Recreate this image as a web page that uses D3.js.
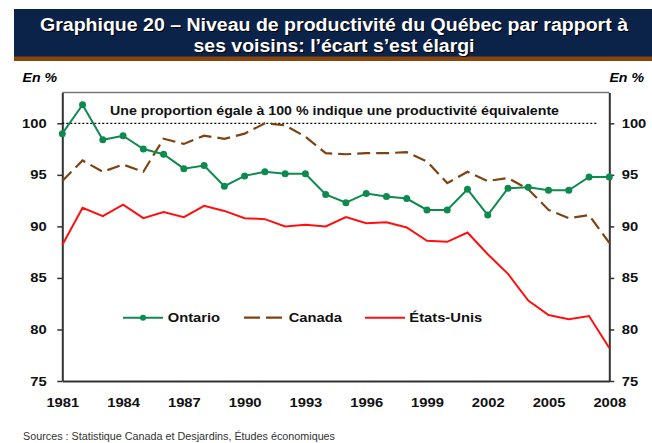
<!DOCTYPE html>
<html>
<head>
<meta charset="utf-8">
<script src="https://cdn.jsdelivr.net/npm/d3@7"></script>
<style>
  body { margin: 0; background: #fff; }
  svg { display: block; font-family: "Liberation Sans", Arial, sans-serif; }
  .tick line { stroke: #333; }
</style>
</head>
<body>
<svg id="chart" width="652" height="443"></svg>
<script>
// values
var years = [1981, 1982, 1983, 1984, 1985, 1986, 1987, 1988, 1989, 1990, 1991, 1992, 1993, 1994,
             1995, 1996, 1997, 1998, 1999, 2000, 2001, 2002, 2003, 2004, 2005, 2006, 2007, 2008];
var ontario = [99.0, 101.8, 98.4, 98.8, 97.5, 97.0, 95.6, 95.9, 93.9, 94.9, 95.3, 95.1, 95.1, 93.1,
               92.3, 93.2, 92.9, 92.7, 91.6, 91.6, 93.6, 91.1, 93.7, 93.8, 93.5, 93.5, 94.8, 94.8];
var canada = [94.4, 96.4, 95.3, 96.0, 95.3, 98.5, 98.0, 98.8, 98.5, 99.0, 100.0, 99.8, 98.7, 97.1,
              97.0, 97.1, 97.1, 97.2, 96.3, 94.2, 95.3, 94.4, 94.7, 93.6, 91.6, 90.8, 91.1, 88.4];
var etatsUnis = [88.2, 91.8, 91.0, 92.1, 90.8, 91.4, 90.9, 92.0, 91.5, 90.8, 90.7, 90.0, 90.15, 90.0,
                 90.9, 90.3, 90.4, 89.9, 88.6, 88.5, 89.4, 87.3, 85.4, 82.8, 81.4, 81.0, 81.3, 78.2];
var xTickYears = [1981, 1984, 1987, 1990, 1993, 1996, 1999, 2002, 2005, 2008];
var yTicks = [75, 80, 85, 90, 95, 100];
var seriesNames = ["Ontario", "Canada", "États-Unis"];

var titleLines = ["Graphique 20 – Niveau de productivité du Québec par rapport à",
                  "ses voisins: l’écart s’est élargi"];
var noteText = "Une proportion égale à 100 % indique une productivité équivalente";
var sourceText = "Sources : Statistique Canada et Desjardins, Études économiques";

var green = "#0f8a4e", brown = "#7d4310", red = "#ff1010";
var stretch = 1.18; // the original picture text looks a bit wide

var svg = d3.select("#chart");

var x = d3.scaleLinear().domain([1981, 2008]).range([62.3, 609.3]);
var y = d3.scaleLinear().domain([75, 103]).range([381, 92.4]);

// helper for wide-looking text
function wideText(g, tx, ty, txt, size, anchor, k) {
  return g.append("text")
    .attr("transform", "translate(" + tx + "," + ty + ") scale(" + (k || stretch) + ",1)")
    .attr("text-anchor", anchor || "start")
    .style("font-size", size + "px")
    .style("font-weight", "bold")
    .text(txt);
}

// title banner
svg.append("rect").attr("x", 14).attr("y", 9).attr("width", 638).attr("height", 48).attr("fill", "#0b2249");
svg.append("rect").attr("x", 14).attr("y", 56.5).attr("width", 638).attr("height", 4.5).attr("fill", "#88460e");
titleLines.forEach(function(t, i) {
  var ty = 31 + i * 21;
  svg.append("text").attr("x", 335).attr("y", ty + 1.2).attr("text-anchor", "middle")
    .style("font-size", "18px").style("font-weight", "bold").attr("fill", "#000")
    .attr("textLength", i == 0 ? 588 : 281).attr("lengthAdjust", "spacingAndGlyphs").text(t);
  svg.append("text").attr("x", 334).attr("y", ty).attr("text-anchor", "middle")
    .style("font-size", "18px").style("font-weight", "bold").attr("fill", "#fff")
    .attr("textLength", i == 0 ? 588 : 281).attr("lengthAdjust", "spacingAndGlyphs").text(t);
});

// unit labels
wideText(svg, 22.5, 82, "En %", 12).style("font-style", "italic");
wideText(svg, 644, 82, "En %", 12, "end").style("font-style", "italic");

// top border of the plot
svg.append("line").attr("x1", x(1981)).attr("x2", x(2008)).attr("y1", y(103)).attr("y2", y(103))
  .attr("stroke", "#777").attr("stroke-width", 1.5);

// axes
var leftAxis = svg.append("g").attr("transform", "translate(" + x(1981) + ",0)")
  .call(d3.axisLeft(y).tickValues(yTicks).tickSize(5).tickSizeOuter(0));
var rightAxis = svg.append("g").attr("transform", "translate(" + x(2008) + ",0)")
  .call(d3.axisRight(y).tickValues(yTicks).tickSize(5).tickSizeOuter(0));
var bottomAxis = svg.append("g").attr("transform", "translate(0," + y(75) + ")")
  .call(d3.axisBottom(x).tickValues(xTickYears).tickFormat(d3.format("d")).tickSize(0).tickSizeOuter(0));

[leftAxis, rightAxis, bottomAxis].forEach(function(a) {
  a.select(".domain").attr("stroke", "#333").attr("stroke-width", 2);
  a.selectAll(".tick line").attr("stroke", "#333").attr("stroke-width", 1.5);
  a.selectAll("text").attr("fill", "#111").style("font-size", "12.5px").style("font-weight", "bold")
    .style("font-family", "'Liberation Sans', Arial, sans-serif");
});
leftAxis.selectAll("text").attr("x", -15.6 / stretch).attr("transform", "scale(" + stretch + ",1)");
rightAxis.selectAll("text").attr("x", 12.4 / stretch).attr("transform", "scale(" + stretch + ",1)");
bottomAxis.selectAll("text").attr("y", 17.5).attr("transform", "scale(" + stretch + ",1)");

// 100% reference line and note
svg.append("line").attr("x1", x(1981)).attr("x2", 597.7).attr("y1", y(100)).attr("y2", y(100))
  .attr("stroke", "#000").attr("stroke-width", 1.2).attr("stroke-dasharray", "2,2");
svg.append("text").attr("x", 334.5).attr("y", 114.5).attr("text-anchor", "middle")
  .style("font-size", "13px").style("font-weight", "bold").attr("fill", "#111")
  .attr("textLength", 449).attr("lengthAdjust", "spacingAndGlyphs").text(noteText);

// series lines
var line = d3.line().x(function(d) { return x(d[0]); }).y(function(d) { return y(d[1]); });
function pairs(vals) { return years.map(function(yr, i) { return [yr, vals[i]]; }); }

svg.append("path").datum(pairs(etatsUnis)).attr("d", line)
  .attr("fill", "none").attr("stroke", red).attr("stroke-width", 2);
svg.append("path").datum(pairs(canada)).attr("d", line)
  .attr("fill", "none").attr("stroke", brown).attr("stroke-width", 2.2).attr("stroke-dasharray", "13,6");
svg.append("path").datum(pairs(ontario)).attr("d", line)
  .attr("fill", "none").attr("stroke", green).attr("stroke-width", 2);
svg.append("g").selectAll("circle").data(pairs(ontario)).enter().append("circle")
  .attr("cx", function(d) { return x(d[0]); }).attr("cy", function(d) { return y(d[1]); })
  .attr("r", 3.5).attr("fill", green);

// legend
var legend = svg.append("g");
var legY = 317.7;
legend.append("line").attr("x1", 123).attr("x2", 163).attr("y1", legY).attr("y2", legY)
  .attr("stroke", green).attr("stroke-width", 2);
legend.append("circle").attr("cx", 143).attr("cy", legY).attr("r", 3).attr("fill", green);
legend.append("line").attr("x1", 244).attr("x2", 282).attr("y1", legY).attr("y2", legY)
  .attr("stroke", brown).attr("stroke-width", 2.2).attr("stroke-dasharray", "16,6");
legend.append("line").attr("x1", 365).attr("x2", 405).attr("y1", legY).attr("y2", legY)
  .attr("stroke", red).attr("stroke-width", 2);
[[167.7, seriesNames[0]], [288.7, seriesNames[1]], [409.3, seriesNames[2]]].forEach(function(l) {
  wideText(legend, l[0], legY + 4.5, l[1], 12.5).attr("fill", "#111");
});

// source
svg.append("text").attr("x", 23).attr("y", 440).style("font-size", "10px").attr("fill", "#333")
  .attr("textLength", 312).attr("lengthAdjust", "spacingAndGlyphs").text(sourceText);
</script>
</body>
</html>
